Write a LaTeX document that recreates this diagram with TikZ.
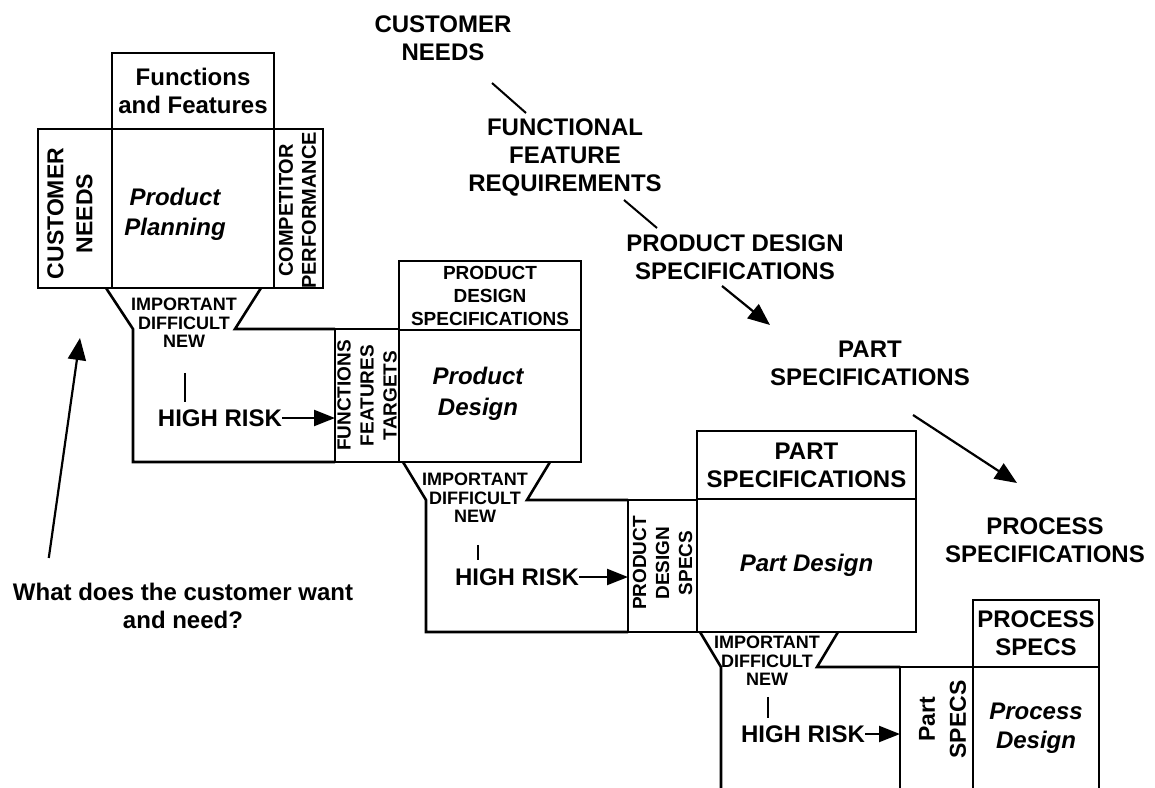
\documentclass[tikz,border=0pt]{standalone}
\usepackage{fontspec}
\setmainfont{Liberation Sans}
\usetikzlibrary{calc,arrows.meta}

\newcommand{\bigtxt}{\fontsize{24}{28}\selectfont\bfseries}
\newcommand{\smalltxt}{\fontsize{19}{23}\selectfont\bfseries}
\newcommand{\imptxt}{\fontsize{18}{18.5}\selectfont\bfseries}

\begin{document}
\begin{tikzpicture}[x=1pt, y=-1pt,
  cell/.style={draw, line width=2.6pt, inner sep=0pt, outer sep=0pt,
    anchor=north west, align=center, font=\bigtxt},
  lbl/.style={inner sep=0pt, align=center, font=\bigtxt},
  imp/.style={inner sep=0pt, align=center, font=\imptxt},
  outline/.style={line width=2.6pt},
  thinline/.style={line width=2pt},
  riskmark/.style={line width=2pt},
  riskarrow/.style={line width=2.2pt, -{Triangle[length=21pt, width=16pt]}},
  chainarrow/.style={line width=2.2pt, -{Triangle[length=22pt, width=18pt]}}]
  \useasboundingbox (0,0) rectangle (1155,787);
  \clip (0,0) rectangle (1155,787);

  % stage 1: product planning
  \node[cell, minimum width=162pt, minimum height=76pt] (fnbox) at (112,53) {Functions\\and Features};
  \node[cell, minimum width=74pt, minimum height=159pt] (custcol) at (38,129) {};
  \node[cell, minimum width=162pt, minimum height=159pt] (plan) at (112,129) {};
  \node[cell, minimum width=49pt, minimum height=159pt] (compcol) at (274,129) {};
  \node[lbl, rotate=90, font={\fontsize{23}{29}\selectfont\bfseries}] (custtxt) at ($(custcol.center)+(-5,5)$) {CUSTOMER\\NEEDS};
  \node[lbl, font={\fontsize{24}{30}\selectfont\bfseries\itshape}] (plantxt) at ($(plan.center)+(-18,6)$) {Product\\Planning};
  \node[lbl, rotate=90, font={\fontsize{20}{23}\selectfont\bfseries}] (comptxt) at ($(compcol.center)+(-1,2)$) {COMPETITOR\\PERFORMANCE};
  \node[cell, minimum width=64pt, minimum height=133pt] (ffcol) at (335,329) {};
  \node[lbl, rotate=90, font=\smalltxt] (fftxt) at (ffcol.center) {FUNCTIONS\\FEATURES\\TARGETS};
  \draw[outline] (106,288) -- (133,329) -- (133,462) -- (ffcol.south west);
  \draw[outline] (261,288) -- (235,329) -- (ffcol.north west);
  \node[imp] (imp1) at (184,323) {IMPORTANT\\DIFFICULT\\NEW};
  \node[lbl] (risk1) at (220,418) {HIGH RISK};
  \draw[riskmark] (imp1.south) ++(1,25) -- ++(0,29);
  \draw[riskarrow] (risk1.east) -- (risk1.east -| ffcol.west);

  % stage 2: product design
  \node[cell, minimum width=182pt, minimum height=69pt, font=\smalltxt] (pdspec) at (399,261) {PRODUCT\\DESIGN\\SPECIFICATIONS};
  \node[cell, minimum width=182pt, minimum height=132pt] (pdesign) at (399,330) {};
  \node[lbl, font={\fontsize{24}{31}\selectfont\bfseries\itshape}] (pdesigntxt) at ($(pdesign.center)+(-12,-2)$) {Product\\Design};
  \node[cell, minimum width=69pt, minimum height=132pt] (pdscol) at (628,500) {};
  \node[lbl, rotate=90, font=\smalltxt] (pdstxt) at ($(pdscol.center)+(0,-3)$) {PRODUCT\\DESIGN\\SPECS};
  \draw[outline] (403,462) -- (426,500) -- (426,632) -- (pdscol.south west);
  \draw[outline] (550,462) -- (527,500) -- (pdscol.north west);
  \node[imp] (imp2) at (475,498) {IMPORTANT\\DIFFICULT\\NEW};
  \node[lbl] (risk2) at (517,577) {HIGH RISK};
  \draw[riskmark] (imp2.south) ++(3,22) -- ++(0,15);
  \draw[riskarrow] (risk2.east) -- (risk2.east -| pdscol.west);

  % stage 3: part design
  \node[cell, minimum width=219pt, minimum height=68pt] (partspec) at (697,431) {PART\\SPECIFICATIONS};
  \node[cell, minimum width=219pt, minimum height=133pt, font=\bigtxt\itshape] (partdesign) at (697,499) {Part Design};
  \node[cell, minimum width=73pt, minimum height=123pt] (partcol) at (900,667) {};
  \node[lbl, rotate=90, font={\fontsize{23}{31}\selectfont\bfseries}] (parttxt) at ($(partcol.center)+(6,-9)$) {Part\\SPECS};
  \draw[outline] (700,632) -- (721,667) -- (721,790);
  \draw[outline] (838,632) -- (817,667) -- (partcol.north west);
  \node[imp] (imp3) at (767,661) {IMPORTANT\\DIFFICULT\\NEW};
  \node[lbl] (risk3) at (803,734) {HIGH RISK};
  \draw[riskmark] (imp3.south) ++(1,11) -- ++(0,21);
  \draw[riskarrow] (risk3.east) -- (risk3.east -| partcol.west);

  % stage 4: process design
  \node[cell, minimum width=126pt, minimum height=67pt] (procspec) at (973,600) {PROCESS\\SPECS};
  \node[cell, minimum width=126pt, minimum height=123pt, font={\fontsize{24}{29}\selectfont\bfseries\itshape}] (procdesign) at (973,667) {Process\\Design};

  % the chain of specifications
  \node[lbl] (cn) at (443,38) {CUSTOMER\\NEEDS};
  \node[lbl] (ffr) at (565,157) {FUNCTIONAL\\FEATURE\\REQUIREMENTS};
  \node[lbl] (pds) at (735,257) {PRODUCT DESIGN\\SPECIFICATIONS};
  \node[lbl] (ps) at (870,363) {PART\\SPECIFICATIONS};
  \node[lbl] (prs) at (1045,540) {PROCESS\\SPECIFICATIONS};
  \draw[thinline] ($(cn)+(49,45)$) -- ($(ffr)+(-39,-44)$);
  \draw[thinline] ($(ffr)+(59,43)$) -- ($(pds)+(-78,-29)$);
  \draw[chainarrow] ($(pds)+(-13,29)$) -- ($(ps)+(-100,-38)$);
  \draw[chainarrow] ($(ps)+(43,52)$) -- ($(prs)+(-28,-57)$);

  % the question
  \node[lbl] (ask) at (183,606) {What does the customer want\\and need?};
  \coordinate (asktip) at (80,338);
  \draw[chainarrow] ($(ask.north west)+(36,-25)$) -- (asktip);
\end{tikzpicture}
\end{document}
